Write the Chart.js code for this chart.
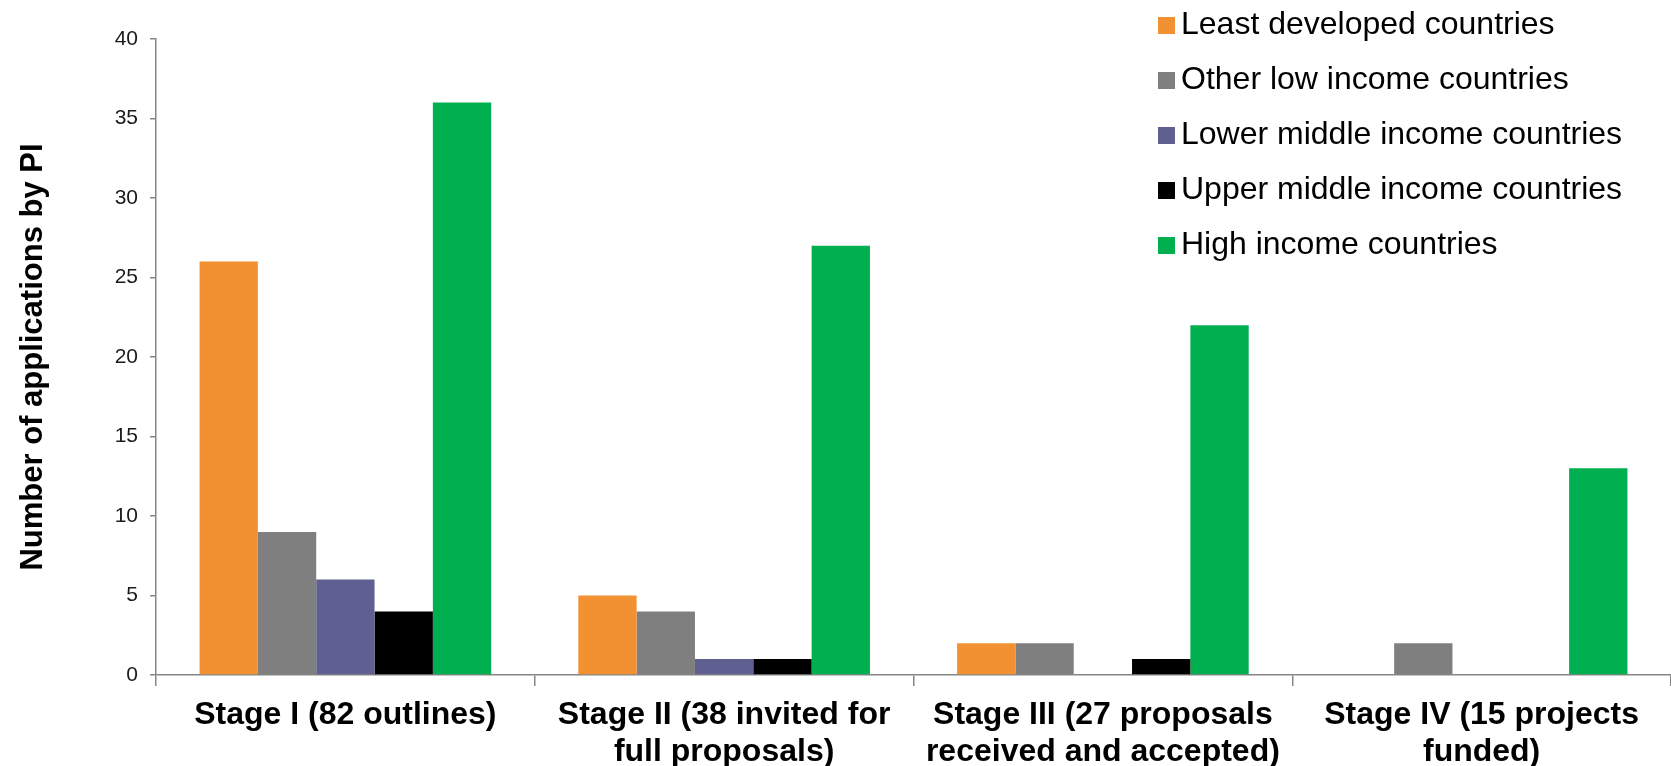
<!DOCTYPE html>
<html>
<head>
<meta charset="utf-8">
<title>Applications by PI</title>
<script src="https://cdn.jsdelivr.net/npm/chart.js@4.4.1/dist/chart.umd.min.js"></script>
<style>
  html, body { margin: 0; padding: 0; background: #fff; }
  #wrap { width: 1671px; height: 766px; }
</style>
</head>
<body>
<div id="wrap"><canvas id="stages" width="1671" height="766"></canvas></div>
<script>
// Stages of the call and applications per country income group
const stages = [
  ['Stage I (82 outlines)'],
  ['Stage II (38 invited for', 'full proposals)'],
  ['Stage III (27 proposals', 'received and accepted)'],
  ['Stage IV (15 projects', 'funded)']
];
const leastDeveloped = [26, 5, 2, 0];
const otherLowIncome = [9, 4, 2, 2];
const lowerMiddleIncome = [6, 1, 0, 0];
const upperMiddleIncome = [4, 1, 1, 0];
const highIncome = [36, 27, 22, 13];
const yMin = 0, yMax = 40, yStep = 5;

const FONT = '"Liberation Sans", Arial, Helvetica, sans-serif';
const AXIS = '#868686';

// legend drawn as a column in the top-right corner, over the plot
const cornerLegend = {
  id: 'cornerLegend',
  afterDraw(chart) {
    const ctx = chart.ctx;
    ctx.save();
    ctx.font = '32px ' + FONT;
    ctx.textBaseline = 'alphabetic';
    chart.data.datasets.forEach((ds, i) => {
      const base = 34 + i * 55;
      ctx.fillStyle = ds.backgroundColor;
      ctx.fillRect(1158, base - 17, 17, 17);
      ctx.fillStyle = '#000';
      ctx.fillText(ds.label, 1181, base);
    });
    ctx.restore();
  }
};

const ctx = document.getElementById('stages');
new Chart(ctx, {
  type: 'bar',
  data: {
    labels: stages,
    datasets: [
      { label: 'Least developed countries', data: leastDeveloped, backgroundColor: '#F29132' },
      { label: 'Other low income countries', data: otherLowIncome, backgroundColor: '#7F7F7F' },
      { label: 'Lower middle income countries', data: lowerMiddleIncome, backgroundColor: '#5F5F91' },
      { label: 'Upper middle income countries', data: upperMiddleIncome, backgroundColor: '#000000' },
      { label: 'High income countries', data: highIncome, backgroundColor: '#00B050' }
    ]
  },
  options: {
    responsive: false,
    animation: false,
    devicePixelRatio: 1,
    datasets: { bar: { categoryPercentage: 0.77, barPercentage: 1 } },
    layout: { padding: { top: 39, right: 0, left: 0, bottom: 0 } },
    plugins: {
      legend: { display: false },
      tooltip: { enabled: false }
    },
    scales: {
      x: {
        offset: true,
        grid: { display: true, drawOnChartArea: false, drawTicks: true, tickLength: 11, color: AXIS, lineWidth: 1.5, offset: true },
        border: { display: true, color: AXIS, width: 1.5 },
        ticks: {
          color: '#000',
          padding: 11,
          maxRotation: 0,
          autoSkip: false,
          font: { family: FONT, size: 32, weight: 'bold', lineHeight: 1.15 }
        },
        afterFit: s => { s.height = 91; }
      },
      y: {
        min: yMin,
        max: yMax,
        grid: { display: true, drawOnChartArea: false, drawTicks: true, tickLength: 6, color: AXIS, lineWidth: 1.5 },
        border: { display: true, color: AXIS, width: 1.5 },
        ticks: {
          stepSize: yStep,
          color: '#1a1a1a',
          padding: 12,
          font: { family: FONT, size: 21 }
        },
        title: {
          display: true,
          text: 'Number of applications by PI',
          color: '#000',
          padding: { top: 15, bottom: 0 },
          font: { family: FONT, size: 31, weight: 'bold', lineHeight: 1.2 }
        },
        afterFit: s => { s.width = 156; }
      }
    }
  },
  plugins: [cornerLegend]
});
</script>
</body>
</html>
